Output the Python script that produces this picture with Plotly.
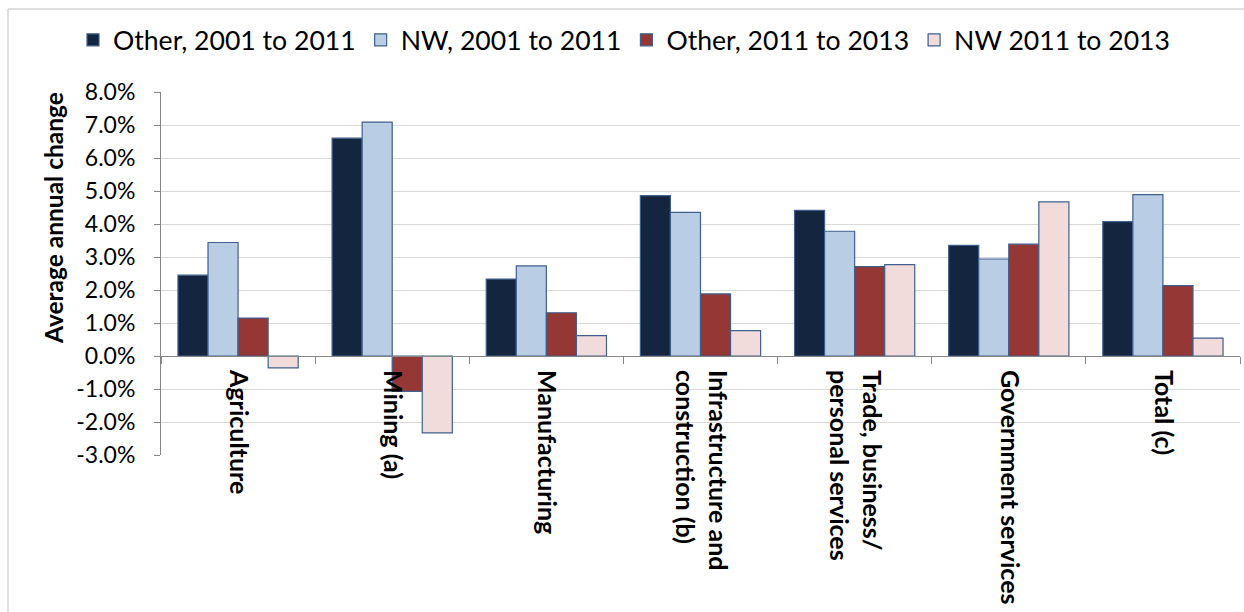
import plotly.graph_objects as go

categories = [
    "Agriculture",
    "Mining (a)",
    "Manufacturing",
    "Infrastructure and<br>construction (b)",
    "Trade, business/<br>personal services",
    "Government services",
    "Total (c)",
]
series_names = ["Other, 2001 to 2011", "NW, 2001 to 2011", "Other, 2011 to 2013", "NW 2011 to 2013"]
other_2001_2011 = [2.45, 6.60, 2.33, 4.86, 4.41, 3.35, 4.07]
nw_2001_2011 = [3.44, 7.09, 2.73, 4.35, 3.78, 2.94, 4.89]
other_2011_2013 = [1.15, -1.07, 1.31, 1.88, 2.71, 3.39, 2.13]
nw_2011_2013 = [-0.36, -2.33, 0.62, 0.77, 2.77, 4.67, 0.54]
colors = ["#14263F", "#B9CDE5", "#953735", "#F2DCDB"]
y_ticks = [-3, -2, -1, 0, 1, 2, 3, 4, 5, 6, 7, 8]
y_min, y_max = -3, 8
y_title = "Average annual change"

FONT = "Lato, Open Sans, sans-serif"

fig = go.Figure()
for name, vals, col in zip(series_names,
                           [other_2001_2011, nw_2001_2011, other_2011_2013, nw_2011_2013],
                           colors):
    fig.add_trace(go.Bar(
        x=categories, y=vals, name=name,
        marker=dict(color=col, line=dict(color="#3F5F8C", width=1.2)),
    ))

W, H = 1244, 612
ml, mr, mt, mb = 161, 4, 92, 157
pw = W - ml - mr
ph = H - mt - mb
zero_pos = (0 - y_min) / (y_max - y_min)

fig.update_layout(
    width=W, height=H,
    margin=dict(l=ml, r=mr, t=mt, b=mb, autoexpand=False),
    plot_bgcolor="white", paper_bgcolor="white",
    barmode="group", bargap=0.22, bargroupgap=0,
    font=dict(family=FONT, color="black"),
    legend=dict(
        orientation="h", x=(73 - ml) / pw, xanchor="left",
        y=1 + (mt - 40) / ph, yanchor="middle",
        font=dict(size=26.6, family=FONT),
        traceorder="normal",
    ),
    xaxis=dict(
        anchor="free", position=zero_pos,
        showline=True, linecolor="#868686", linewidth=1,
        ticks="outside", tickson="boundaries", ticklen=7, tickcolor="#868686",
        tickangle=90, showgrid=False, automargin=False,
        ticklabelstandoff=8,
        tickfont=dict(size=25, family=FONT, weight="bold"),
    ),
    yaxis=dict(
        range=[y_min, y_max], tickvals=y_ticks,
        ticktext=[f"{v:.1f}%" for v in y_ticks],
        showline=True, linecolor="#868686", linewidth=1,
        ticks="outside", ticklen=6, tickcolor="#868686",
        showgrid=True, gridcolor="#D9D9D9", gridwidth=1,
        zeroline=False, automargin=False,
        ticklabelstandoff=14,
        tickfont=dict(size=23),
    ),
    annotations=[dict(
        text="<b>" + y_title + "</b>", xref="paper", yref="paper",
        x=(53 - ml) / pw, y=1 - (218 - mt) / ph,
        xanchor="center", yanchor="middle", textangle=-90, showarrow=False,
        font=dict(size=24.5, family=FONT, color="black"),
    )],
    shapes=[dict(
        type="rect", xref="paper", yref="paper",
        x0=(8 - ml) / pw, x1=(1250 - ml) / pw,
        y0=-(mb + 20) / ph, y1=1 + (mt - 9) / ph,
        line=dict(color="#BFBFBF", width=1), fillcolor="rgba(0,0,0,0)", layer="below",
    )],
)

fig.write_html("out.html")
